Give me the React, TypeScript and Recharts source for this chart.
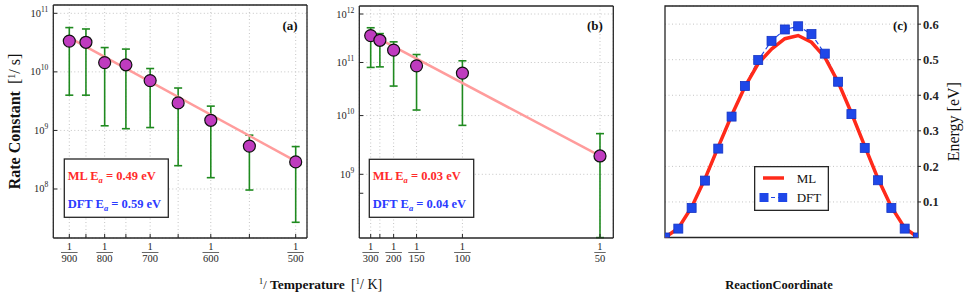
import React from 'react';
import {
  ComposedChart, Scatter, Line, XAxis, YAxis, CartesianGrid, ErrorBar, ReferenceArea, Legend,
} from 'recharts';

const SERIF = '"Liberation Serif", "DejaVu Serif", serif';
const INK = '#262626';
const GRID = '#c4c4c4';
const GREEN = '#1f8a1f';
const MAGENTA = '#bf3bbf';
const FIT = '#ff9c9c';
const RED = '#ff2a1a';
const BLUE = '#1f47e8';
const TXT_RED = '#ff2b2b';
const TXT_BLUE = '#2b3bff';

// ---- (a) 500 - 900 K ----
const tempsA = [900, 850, 800, 750, 700, 650, 600, 550, 500];
const tickLabelsA = [900, 800, 700, 600, 500];
const rateA = [3.35e10, 3.2e10, 1.44e10, 1.32e10, 7.1e9, 2.95e9, 1.49e9, 5.4e8, 2.9e8];
const upperA = [5.7e10, 5.4e10, 2.6e10, 2.45e10, 1.14e10, 5.3e9, 2.6e9, 8.3e8, 5.3e8];
const lowerA = [4.0e9, 4.0e9, 1.2e9, 1.07e9, 1.12e9, 2.5e8, 1.56e8, 9.6e7, 2.7e7];
const fitTempsA = [900, 500];
const fitRateA = [3.85e10, 3.0e8];
const decadesA = [1e8, 1e9, 1e10, 1e11];

// ---- (b) 50 - 300 K ----
const tempsB = [300, 250, 200, 150, 100, 50];
const tickLabelsB = [300, 200, 150, 100, 50];
const rateB = [3.5e11, 2.8e11, 1.76e11, 8.6e10, 6.2e10, 2.0e9];
const upperB = [5.1e11, 3.85e11, 2.6e11, 1.44e11, 1.08e11, 4.8e9];
const lowerB = [8.0e10, 8.2e10, 3.5e10, 1.26e10, 6.7e9, 1.08e8];
const fitTempsB = [300, 50];
const fitRateB = [3.7e11, 2.0e9];
const ticksRateB = [5e8, 1e9, 1e10, 1e11, 1e12];
const decadesB = [1e9, 1e10, 1e11, 1e12];

// ---- (c) reaction path ----
const dftEnergy = [0, 0.025, 0.083, 0.16, 0.25, 0.34, 0.426, 0.499, 0.553, 0.585, 0.594, 0.572, 0.517, 0.438, 0.347, 0.252, 0.161, 0.083, 0.025, 0];
const mlEnergy = [0, 0.026, 0.085, 0.165, 0.255, 0.343, 0.424, 0.489, 0.53, 0.559, 0.568, 0.549, 0.507, 0.437, 0.35, 0.257, 0.165, 0.086, 0.027, 0];
const energyTicks = [0.1, 0.2, 0.3, 0.4, 0.5, 0.6];

// panel (b) axis is log of log
const loglog = (v: number) => Math.log10(Math.log10(v));

const dataA = tempsA.map((t, i) => ({
  x: 1 / t, y: rateA[i], err: [rateA[i] - lowerA[i], upperA[i] - rateA[i]],
}));
const fitA = fitTempsA.map((t, i) => ({ x: 1 / t, y: fitRateA[i] }));

const dataB = tempsB.map((t, i) => {
  const y = loglog(rateB[i]);
  return { x: 1 / t, y, err: [y - loglog(lowerB[i]), loglog(upperB[i]) - y] };
});
const fitB = fitTempsB.map((t, i) => ({ x: 1 / t, y: loglog(fitRateB[i]) }));

const dataC = dftEnergy.map((d, i) => ({ i, dft: d, ml: mlEnergy[i] }));

const fracTick = (labeled: number[], axisY: number) => (props: any) => {
  const { x, payload } = props;
  const T = Math.round(1 / payload.value);
  if (!labeled.includes(T)) return <g />;
  const half = (String(T).length * 5.2 + 1) / 2;
  return (
    <g fontFamily={SERIF} fontSize={10.5} fill={INK}>
      <text x={x} y={axisY + 12} textAnchor="middle">1</text>
      <line x1={x - half} x2={x + half} y1={axisY + 14.5} y2={axisY + 14.5} stroke={INK} strokeWidth={0.7} />
      <text x={x} y={axisY + 23.5} textAnchor="middle">{T}</text>
    </g>
  );
};

const powTick = (axisX: number, expOf: (v: number) => number) => (props: any) => {
  const { y, payload } = props;
  const lg = expOf(payload.value);
  const exp = Math.round(lg);
  if (Math.abs(lg - exp) > 0.01) return <g />;
  return (
    <text x={axisX - 5} y={y + 3.5} textAnchor="end" fontFamily={SERIF} fontSize={10.5} fill={INK}>
      10<tspan dy={-5} fontSize={7.5}>{exp}</tspan>
    </text>
  );
};

const Ball = (p: any) => (
  <circle cx={p.cx} cy={p.cy} r={6} fill={MAGENTA} stroke="#111" strokeWidth={1.2} />
);

const axisLine = { stroke: INK, strokeWidth: 1.3 };

function RatePanel(props: any) {
  const { data, fit, xDomain, yDomain, xTicks, yTicks, labeled, yScale, expOf, plot, width, hValues } = props;
  return (
    <ComposedChart
      width={width}
      height={302}
      margin={{ top: plot.top, right: width - plot.right, bottom: 302 - plot.bottom, left: plot.left }}
    >
      <CartesianGrid stroke={GRID} strokeDasharray="1 2.5" horizontalValues={hValues} />
      <XAxis type="number" dataKey="x" domain={xDomain} ticks={xTicks} interval={0} allowDataOverflow mirror
        tickSize={4} tickMargin={0} axisLine={axisLine} tickLine={{ stroke: INK }} tick={fracTick(labeled, plot.bottom)} />
      <XAxis xAxisId="top" orientation="top" type="number" domain={xDomain} ticks={xTicks} interval={0}
        allowDataOverflow mirror tickSize={4} axisLine={axisLine} tickLine={{ stroke: INK }} tick={false} />
      <YAxis type="number" dataKey="y" scale={yScale} domain={yDomain} ticks={yTicks} interval={0} allowDataOverflow mirror
        tickSize={4} tickMargin={0} axisLine={axisLine} tickLine={{ stroke: INK }} tick={powTick(plot.left, expOf)} />
      <YAxis yAxisId="right" orientation="right" type="number" scale={yScale} domain={yDomain} ticks={yTicks} interval={0}
        allowDataOverflow mirror tickSize={4} axisLine={axisLine} tickLine={{ stroke: INK }} tick={false} />
      <Scatter data={fit} line={{ stroke: FIT, strokeWidth: 2.5 }} shape={() => <g />} isAnimationActive={false} />
      <Scatter data={data} shape={Ball} isAnimationActive={false}>
        <ErrorBar dataKey="err" direction="y" width={4} stroke={GREEN} strokeWidth={1.6} />
      </Scatter>
    </ComposedChart>
  );
}

const Square = (p: any) => (
  <rect key={`sq-${p.index}`} x={p.cx - 4.5} y={p.cy - 4.5} width={9} height={9} fill={BLUE} stroke="#1334c4" strokeWidth={0.8} />
);

const EnergyLegend = () => (
  <svg width={75} height={45} fontFamily={SERIF} fontSize={13}>
    <rect x={0.65} y={0.65} width={73.7} height={43.7} fill="#fff" stroke={INK} strokeWidth={1.3} />
    <line x1={9} x2={30} y1={12} y2={12} stroke={RED} strokeWidth={3.5} />
    <line x1={10} x2={29} y1={31.5} y2={31.5} stroke={BLUE} strokeWidth={1.2} strokeDasharray="4 3" />
    <rect x={5.5} y={27} width={9} height={9} fill={BLUE} />
    <rect x={24.2} y={27} width={9} height={9} fill={BLUE} />
    <text x={42.7} y={16.5} fill="#111">ML</text>
    <text x={42.7} y={36} fill="#111">DFT</text>
  </svg>
);

const EaText = ({ x, y, who, val, color }: any) => (
  <text x={x} y={y} fill={color} fontWeight="bold" fontSize={12.5}>
    {who} E<tspan dy={3} fontSize={8.5} fontStyle="italic">a</tspan>
    <tspan dy={-3}> = {val} eV</tspan>
  </text>
);

export default function App() {
  return (
    <div style={{ position: 'absolute', left: 0, top: 0, width: 969, height: 302, background: '#fff', fontFamily: SERIF }}>
      <div style={{ position: 'absolute', left: 0, top: 0 }}>
        <RatePanel
          width={320}
          plot={{ left: 53.3, right: 307, top: 5, bottom: 238 }}
          data={dataA}
          fit={fitA}
          xDomain={[0.0010483, 0.0020444]}
          yDomain={[1.456e7, 1.386e11]}
          xTicks={tempsA.map((t) => 1 / t)}
          yTicks={decadesA}
          labeled={tickLabelsA}
          yScale="log"
          expOf={(v: number) => Math.log10(v)}
        />
      </div>
      <div style={{ position: 'absolute', left: 300, top: 0 }}>
        <RatePanel
          width={320}
          plot={{ left: 59.3, right: 313.3, top: 6, bottom: 238 }}
          data={dataB}
          fit={fitB}
          xDomain={[0.002505, 0.020967]}
          yDomain={[0.90459, 1.08542]}
          xTicks={tempsB.map((t) => 1 / t)}
          yTicks={ticksRateB.map(loglog)}
          hValues={decadesB.map(loglog)}
          labeled={tickLabelsB}
          yScale="linear"
          expOf={(v: number) => 10 ** v}
        />
      </div>
      <div style={{ position: 'absolute', left: 630, top: 0 }}>
        <ComposedChart width={339} height={302} data={dataC} margin={{ top: 6, right: 1, bottom: 64.5, left: 35 }}>
          <CartesianGrid vertical={false} stroke={GRID} strokeDasharray="1 2.5" />
          <XAxis type="number" dataKey="i" domain={[0, 19]} hide allowDataOverflow />
          <YAxis orientation="right" type="number" domain={[0, 0.651]} ticks={energyTicks} interval={0} allowDataOverflow
            width={50} tickSize={3} tickMargin={2} axisLine={false} tickLine={{ stroke: INK }}
            tick={{ fill: INK, fontSize: 12.5, fontFamily: SERIF, fontWeight: 'bold' }} />
          <ReferenceArea x1={0} x2={19} y1={0} y2={0.651} fill="none" stroke={INK} strokeWidth={1.3} ifOverflow="visible" />
          <Line type="linear" dataKey="dft" stroke={BLUE} strokeWidth={1.2} strokeDasharray="5 3" dot={false} isAnimationActive={false} />
          <Line type="linear" dataKey="ml" stroke={RED} strokeWidth={3.5} dot={false} isAnimationActive={false} />
          <Line type="linear" dataKey="dft" stroke="none" dot={Square} legendType="none" isAnimationActive={false} />
          <Legend layout="horizontal" verticalAlign="middle" align="center" content={EnergyLegend}
            wrapperStyle={{ left: 124, top: 165.5, width: 75, height: 45 }} />
        </ComposedChart>
      </div>
      <svg width={969} height={302} fontFamily={SERIF} fill="#111"
        style={{ position: 'absolute', left: 0, top: 0, pointerEvents: 'none' }}>
        <text x={282.5} y={30} fontWeight="bold" fontSize={13}>(a)</text>
        <text x={587} y={30} fontWeight="bold" fontSize={13}>(b)</text>
        <text x={893} y={30} fontWeight="bold" fontSize={13}>(c)</text>

        <rect x={64.3} y={159} width={104} height={58.3} fill="#fff" stroke={INK} strokeWidth={1.3} />
        <EaText x={67.7} y={179.5} who="ML" val="0.49" color={TXT_RED} />
        <EaText x={67.7} y={207.5} who="DFT" val="0.59" color={TXT_BLUE} />

        <rect x={369.3} y={159.3} width={104.4} height={58} fill="#fff" stroke={INK} strokeWidth={1.3} />
        <EaText x={372.7} y={179.5} who="ML" val="0.03" color={TXT_RED} />
        <EaText x={372.7} y={207.5} who="DFT" val="0.04" color={TXT_BLUE} />

        <g transform="translate(20,121.5) rotate(-90)">
          <text textAnchor="middle" fontSize={16}>
            <tspan fontWeight="bold">Rate Constant</tspan>
            <tspan dx={7}>[</tspan>
            <tspan fontSize={10} dy={-5}>1</tspan>
            <tspan dy={5}>/ s]</tspan>
          </text>
        </g>

        <text x={320.5} y={289} textAnchor="middle" fontSize={12.5}>
          <tspan fontSize={9} dy={-5}>1</tspan>
          <tspan dy={5}>/ </tspan>
          <tspan fontWeight="bold" fontSize={13.5}>Temperature</tspan>
          <tspan dx={6} fontSize={14}>[</tspan>
          <tspan fontSize={9} dy={-5}>1</tspan>
          <tspan dy={5} fontSize={14}>/ K]</tspan>
        </text>

        <text x={779} y={288.5} textAnchor="middle" fontWeight="bold" fontSize={12.5}>ReactionCoordinate</text>

        <g transform="translate(959,121.7) rotate(-90)">
          <text textAnchor="middle" fontSize={16}>Energy [eV]</text>
        </g>
      </svg>
    </div>
  );
}
